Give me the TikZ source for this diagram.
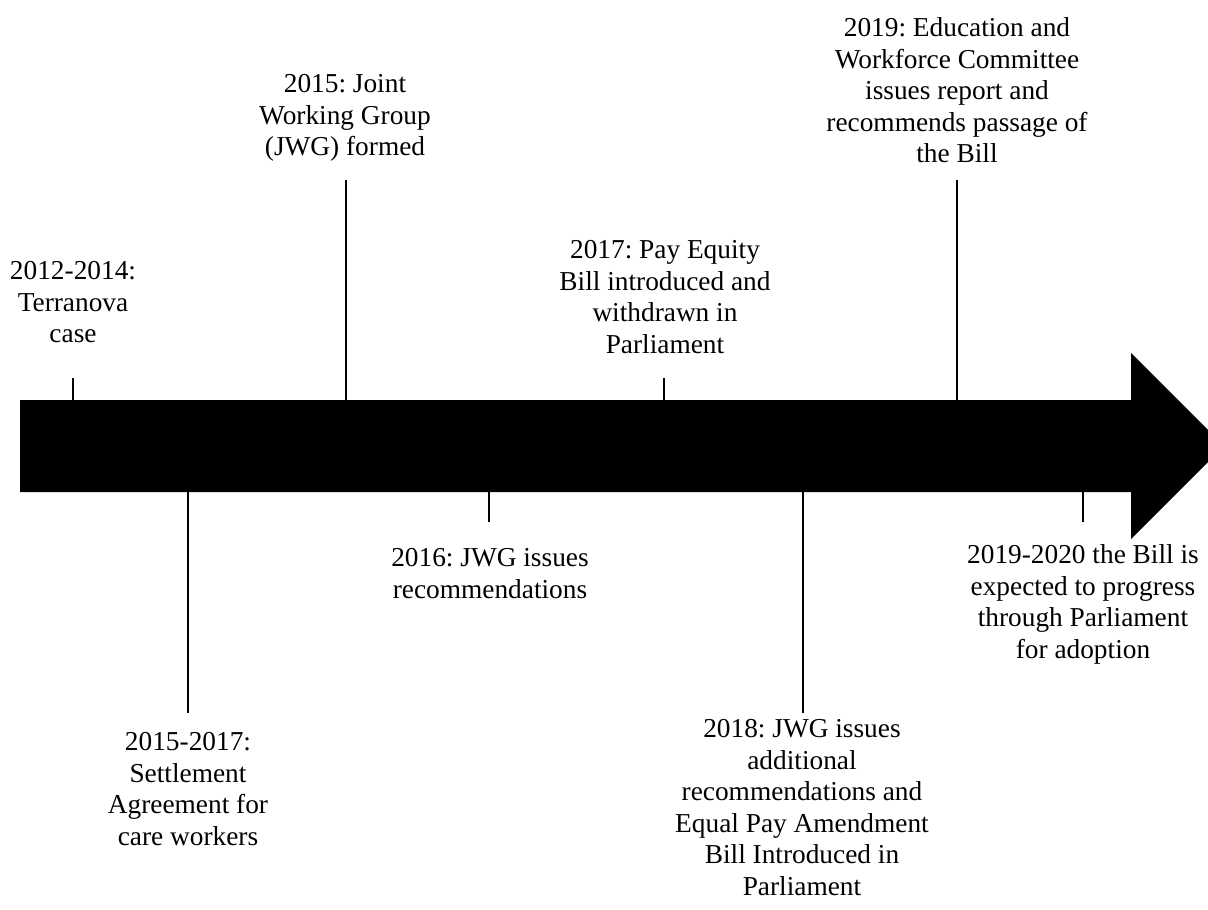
\documentclass[tikz,border=0pt]{standalone}
\usepackage{fontspec}
\setmainfont{Liberation Serif}
\frenchspacing
\begin{document}
\begin{tikzpicture}[x=0.75pt,y=-0.75pt,
  lbl/.style={align=center,inner sep=0pt,anchor=north,font=\fontsize{20.5}{23.6}\selectfont},
  tick/.style={line width=1pt,black}]
\clip (0,0) rectangle (1208,910);
\fill[white] (0,0) rectangle (1208,910);
% arrow
\fill[black] (20,400) -- (1131,400) -- (1131,353) -- (1224,446) -- (1131,539) -- (1131,492) -- (20,492) -- cycle;
% labels
\node[lbl] (t1) at (73,261.5) {2012-2014:\\Terranova\\case};
\node[lbl] (t2) at (188,732.5) {2015-2017:\\Settlement\\Agreement for\\care workers};
\node[lbl] (t3) at (345,74.5) {2015: Joint\\Working Group\\(JWG) formed};
\node[lbl] (t4) at (490,548.5) {2016: JWG issues\\recommendations};
\node[lbl] (t5) at (665,240.5) {2017: Pay Equity\\Bill introduced and\\withdrawn in\\Parliament};
\node[lbl] (t6) at (802,719.5) {2018: JWG issues\\additional\\recommendations and\\Equal Pay Amendment\\Bill Introduced in\\Parliament};
\node[lbl] (t7) at (957,17.5) {2019: Education and\\Workforce Committee\\issues report and\\recommends passage of\\the Bill};
\node[lbl] (t8) at (1083,544.5) {2019-2020 the Bill is\\expected to progress\\through Parliament\\for adoption};
% tick coordinates
\coordinate (a1) at (73,400); \coordinate (b1) at (73,378);
\coordinate (a2) at (188,492); \coordinate (b2) at (188,713);
\coordinate (a3) at (346,400); \coordinate (b3) at (346,180);
\coordinate (a4) at (489,492); \coordinate (b4) at (489,522);
\coordinate (a5) at (664,400); \coordinate (b5) at (664,378);
\coordinate (a6) at (803,492); \coordinate (b6) at (803,713);
\coordinate (a7) at (957,400); \coordinate (b7) at (957,180);
\coordinate (a8) at (1083,492); \coordinate (b8) at (1083,522);
\foreach \i in {1,...,8} {\draw[tick] (a\i) -- (b\i);}
\end{tikzpicture}
\end{document}
